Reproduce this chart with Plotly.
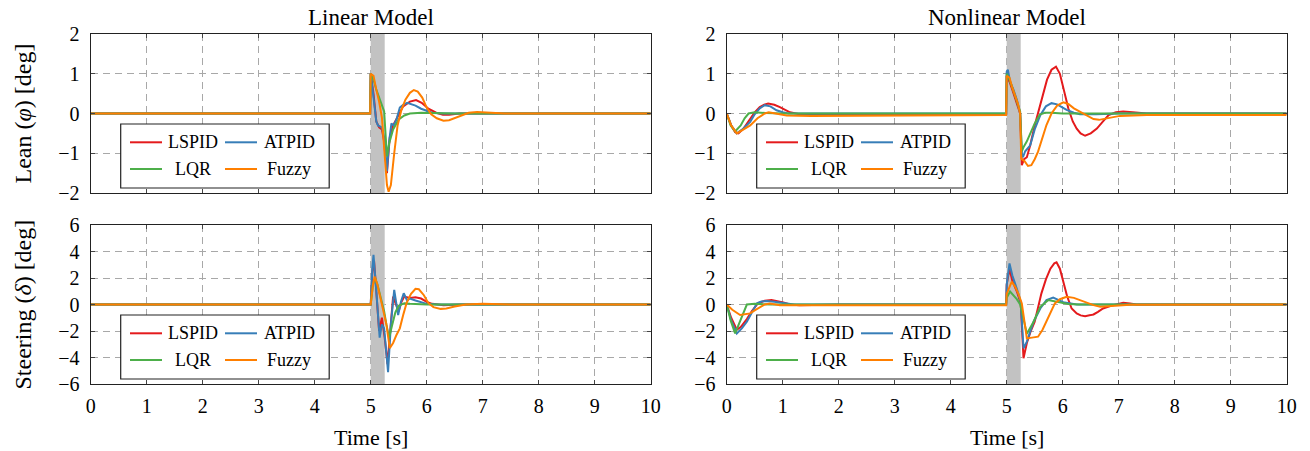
import plotly.graph_objects as go

# ---------------- data ----------------
controllers = ["LSPID", "ATPID", "LQR", "Fuzzy"]
colors = ["#e41a1c", "#377eb8", "#4daf4a", "#ff7f00"]

# Linear model - lean angle [deg]
lin_lean_lspid_t = [0, 4.99, 5.0, 5.05, 5.1, 5.15, 5.2, 5.24, 5.29, 5.34, 5.4, 5.49, 5.58, 5.7, 5.81, 5.91, 6.03, 6.17, 6.29, 6.4, 6.58, 10]
lin_lean_lspid_v = [0, 0, 1.0, 0.5, -0.2, -0.35, -0.4, -0.7, -1.5, -0.6, -0.3, -0.05, 0.18, 0.3, 0.34, 0.27, 0.12, 0.02, -0.03, -0.03, 0.0, 0.0]
lin_lean_atpid_t = [0, 4.99, 5.0, 5.05, 5.1, 5.13, 5.2, 5.24, 5.29, 5.33, 5.37, 5.41, 5.46, 5.52, 5.58, 5.65, 5.72, 5.8, 5.9, 6.0, 6.1, 6.3, 10]
lin_lean_atpid_v = [0, 0, 1.0, 0.45, -0.2, -0.3, -0.35, -0.6, -1.45, -0.7, -0.25, -0.3, -0.15, 0.15, 0.22, 0.27, 0.24, 0.2, 0.12, 0.07, 0.02, 0.0, 0.0]
lin_lean_lqr_t = [0, 4.99, 5.0, 5.05, 5.1, 5.15, 5.2, 5.24, 5.29, 5.33, 5.4, 5.5, 5.6, 5.7, 5.9, 6.5, 10]
lin_lean_lqr_v = [0, 0, 1.0, 0.85, 0.6, 0.4, 0.25, 0.05, -1.08, -0.75, -0.4, -0.15, -0.05, 0.0, 0.02, 0.0, 0.0]
lin_lean_fuzzy_t = [0, 4.99, 5.0, 5.05, 5.1, 5.15, 5.2, 5.25, 5.29, 5.32, 5.36, 5.42, 5.48, 5.55, 5.62, 5.7, 5.77, 5.84, 5.92, 6.0, 6.08, 6.18, 6.3, 6.4, 6.5, 6.6, 6.75, 6.9, 7.1, 7.4, 10]
lin_lean_fuzzy_v = [0, 0, 1.0, 0.95, 0.6, 0.3, -0.1, -1.0, -1.8, -1.97, -1.8, -1.0, -0.3, 0.1, 0.35, 0.52, 0.59, 0.55, 0.4, 0.15, -0.02, -0.12, -0.18, -0.17, -0.12, -0.05, 0.02, 0.04, 0.03, 0.0, 0.0]

# Linear model - steering angle [deg]
lin_steer_lspid_t = [0, 4.99, 5.0, 5.03, 5.06, 5.1, 5.15, 5.2, 5.25, 5.3, 5.35, 5.4, 5.45, 5.5, 5.55, 5.6, 5.7, 5.8, 5.9, 6.0, 6.1, 6.3, 6.6, 10]
lin_steer_lspid_v = [0, 0, 0, 2.5, 3.3, 1.0, -2.0, -1.0, -2.5, -4.5, -2.0, 0.6, 0.0, -0.5, 0.2, 0.6, 0.5, 0.55, 0.45, 0.2, 0.05, -0.05, 0.0, 0.0]
lin_steer_atpid_t = [0, 4.99, 5.0, 5.03, 5.05, 5.1, 5.16, 5.2, 5.24, 5.31, 5.36, 5.42, 5.49, 5.54, 5.59, 5.65, 5.7, 5.8, 5.9, 6.0, 6.2, 10]
lin_steer_atpid_v = [0, 0, 0, 2.8, 3.75, 1.0, -2.5, -1.5, -1.8, -5.1, -1.5, 1.1, -0.8, 0.2, 0.85, 0.3, 0.45, 0.3, 0.15, 0.05, 0.0, 0.0]
lin_steer_lqr_t = [0, 4.99, 5.0, 5.04, 5.08, 5.12, 5.18, 5.24, 5.28, 5.33, 5.38, 5.44, 5.5, 5.6, 5.7, 6.0, 10]
lin_steer_lqr_v = [0, 0, 0, 1.5, 2.0, 1.5, 0.5, -0.5, -1.5, -2.5, -1.6, -0.6, -0.1, 0.1, 0.05, 0.0, 0.0]
lin_steer_fuzzy_t = [0, 4.99, 5.0, 5.04, 5.07, 5.12, 5.18, 5.22, 5.28, 5.34, 5.4, 5.46, 5.52, 5.58, 5.64, 5.72, 5.8, 5.86, 5.95, 6.03, 6.12, 6.25, 6.35, 6.5, 6.7, 7.0, 7.5, 10]
lin_steer_fuzzy_v = [0, 0, 0, 1.5, 2.1, 1.5, 0.4, -0.3, -1.5, -3.3, -2.9, -2.3, -1.8, -0.8, 0.1, 0.8, 1.18, 1.15, 0.7, 0.1, -0.2, -0.33, -0.3, -0.15, 0.0, 0.05, 0.0, 0.0]

# Nonlinear model - lean angle [deg]
nl_lean_lspid_t = [0, 0.08, 0.15, 0.21, 0.3, 0.42, 0.5, 0.59, 0.67, 0.74, 0.85, 0.95, 1.05, 1.13, 1.3, 2.0, 4.99, 5.0, 5.05, 5.1, 5.15, 5.2, 5.24, 5.27, 5.31, 5.36, 5.42, 5.5, 5.56, 5.64, 5.72, 5.8, 5.88, 5.95, 6.02, 6.1, 6.18, 6.25, 6.32, 6.4, 6.5, 6.61, 6.72, 6.82, 6.95, 7.08, 7.25, 7.5, 10]
nl_lean_lspid_v = [0, -0.3, -0.47, -0.5, -0.38, -0.12, 0.03, 0.16, 0.22, 0.25, 0.22, 0.16, 0.08, 0.03, -0.02, -0.02, -0.02, 0.95, 0.8, 0.6, 0.4, 0.2, 0.0, -1.3, -1.15, -1.1, -0.8, -0.3, 0.0, 0.45, 0.85, 1.1, 1.18, 1.0, 0.6, 0.13, -0.2, -0.38, -0.5, -0.56, -0.5, -0.38, -0.2, -0.04, 0.03, 0.05, 0.03, 0.0, 0.0]
nl_lean_atpid_t = [0, 0.08, 0.18, 0.28, 0.42, 0.5, 0.59, 0.68, 0.78, 0.89, 1.0, 1.1, 4.99, 5.0, 5.02, 5.06, 5.12, 5.18, 5.24, 5.27, 5.29, 5.33, 5.42, 5.5, 5.6, 5.7, 5.8, 5.9, 6.0, 6.07, 6.2, 6.31, 6.6, 7.0, 10]
nl_lean_atpid_v = [0, -0.3, -0.5, -0.4, -0.21, -0.02, 0.13, 0.21, 0.18, 0.08, 0.03, 0.0, 0.0, 1.05, 1.1, 0.8, 0.6, 0.35, 0.0, -1.0, -1.1, -0.95, -0.8, -0.4, -0.04, 0.18, 0.26, 0.23, 0.15, 0.09, 0.02, -0.02, -0.02, 0.0, 0.0]
nl_lean_lqr_t = [0, 0.07, 0.15, 0.25, 0.32, 0.39, 0.5, 0.7, 1.0, 4.99, 5.0, 5.05, 5.1, 5.15, 5.2, 5.24, 5.27, 5.3, 5.36, 5.42, 5.5, 5.59, 5.68, 5.8, 6.0, 10]
nl_lean_lqr_v = [0, -0.3, -0.45, -0.3, -0.12, 0.0, 0.03, 0.01, 0.0, 0.0, 1.0, 0.85, 0.65, 0.45, 0.25, 0.05, -0.95, -0.85, -0.7, -0.5, -0.25, -0.03, 0.02, 0.02, 0.0, 0.0]
nl_lean_fuzzy_t = [0, 0.08, 0.18, 0.28, 0.42, 0.55, 0.68, 0.75, 0.9, 1.07, 1.5, 3.0, 4.99, 5.0, 5.05, 5.1, 5.15, 5.2, 5.24, 5.26, 5.32, 5.38, 5.44, 5.5, 5.56, 5.64, 5.71, 5.8, 5.9, 6.01, 6.1, 6.2, 6.31, 6.45, 6.55, 6.65, 6.82, 7.02, 7.5, 10]
nl_lean_fuzzy_v = [0, -0.3, -0.5, -0.42, -0.3, -0.12, 0.0, 0.03, 0.0, -0.05, -0.06, -0.05, -0.04, 0.95, 0.9, 0.65, 0.45, 0.25, 0.0, -1.14, -1.2, -1.32, -1.3, -1.15, -0.96, -0.6, -0.29, 0.0, 0.2, 0.28, 0.24, 0.13, 0.04, -0.08, -0.14, -0.16, -0.12, -0.06, -0.04, -0.04]

# Nonlinear model - steering angle [deg]
nl_steer_lspid_t = [0, 0.08, 0.18, 0.25, 0.36, 0.45, 0.56, 0.68, 0.8, 0.9, 1.01, 1.13, 1.3, 2.0, 4.99, 5.0, 5.05, 5.1, 5.18, 5.25, 5.3, 5.36, 5.43, 5.5, 5.56, 5.62, 5.7, 5.78, 5.85, 5.89, 5.95, 6.01, 6.08, 6.16, 6.25, 6.32, 6.4, 6.5, 6.55, 6.63, 6.72, 6.9, 7.08, 7.2, 7.32, 10]
nl_steer_lspid_v = [0, -1.0, -1.9, -1.7, -1.1, -0.5, 0.1, 0.28, 0.34, 0.28, 0.16, 0.0, -0.05, 0.0, 0.0, 1.5, 2.7, 1.8, 1.0, 0.1, -4.05, -2.9, -2.0, -1.3, -0.2, 0.84, 1.9, 2.7, 3.1, 3.18, 2.7, 1.72, 0.6, -0.3, -0.68, -0.82, -0.88, -0.8, -0.75, -0.55, -0.3, -0.05, 0.13, 0.08, 0.0, 0.0]
nl_steer_atpid_t = [0, 0.08, 0.18, 0.27, 0.36, 0.45, 0.54, 0.62, 0.71, 0.85, 1.0, 1.2, 4.99, 5.0, 5.05, 5.1, 5.18, 5.25, 5.3, 5.36, 5.48, 5.6, 5.71, 5.83, 5.92, 6.01, 6.25, 10]
nl_steer_atpid_v = [0, -1.2, -2.18, -1.8, -1.3, -0.6, 0.09, 0.22, 0.27, 0.2, 0.1, 0.0, 0.0, 1.5, 3.1, 2.2, 1.2, 0.2, -3.3, -2.8, -1.3, -0.3, 0.33, 0.52, 0.35, 0.17, 0.0, 0.0]
nl_steer_lqr_t = [0, 0.07, 0.15, 0.22, 0.3, 0.36, 0.5, 0.8, 4.99, 5.0, 5.06, 5.12, 5.18, 5.24, 5.3, 5.36, 5.48, 5.6, 5.74, 5.85, 5.95, 6.1, 6.3, 10]
nl_steer_lqr_v = [0, -1.2, -2.18, -1.5, -0.6, 0.0, 0.05, 0.0, 0.0, 0.5, 0.98, 0.7, 0.4, 0.0, -1.2, -2.2, -1.3, -0.17, 0.33, 0.25, 0.13, 0.03, 0.0, 0.0]
nl_steer_fuzzy_t = [0, 0.1, 0.24, 0.33, 0.42, 0.5, 0.6, 0.68, 0.77, 0.95, 1.3, 4.99, 5.0, 5.09, 5.15, 5.21, 5.27, 5.32, 5.36, 5.45, 5.56, 5.64, 5.71, 5.78, 5.86, 5.95, 6.07, 6.2, 6.31, 6.45, 6.55, 6.67, 6.8, 6.9, 7.2, 10]
nl_steer_fuzzy_v = [0, -0.4, -0.79, -0.75, -0.67, -0.45, -0.17, 0.0, 0.08, -0.05, -0.05, -0.05, 0.8, 1.72, 1.35, 0.8, 0.08, -1.5, -2.55, -2.5, -2.43, -1.9, -1.3, -0.6, 0.08, 0.4, 0.58, 0.5, 0.33, 0.1, -0.05, -0.17, -0.14, -0.08, -0.02, 0.0]

panels = [
    ("x", "y", [(lin_lean_lspid_t, lin_lean_lspid_v), (lin_lean_atpid_t, lin_lean_atpid_v),
                (lin_lean_lqr_t, lin_lean_lqr_v), (lin_lean_fuzzy_t, lin_lean_fuzzy_v)]),
    ("x2", "y2", [(nl_lean_lspid_t, nl_lean_lspid_v), (nl_lean_atpid_t, nl_lean_atpid_v),
                  (nl_lean_lqr_t, nl_lean_lqr_v), (nl_lean_fuzzy_t, nl_lean_fuzzy_v)]),
    ("x3", "y3", [(lin_steer_lspid_t, lin_steer_lspid_v), (lin_steer_atpid_t, lin_steer_atpid_v),
                  (lin_steer_lqr_t, lin_steer_lqr_v), (lin_steer_fuzzy_t, lin_steer_fuzzy_v)]),
    ("x4", "y4", [(nl_steer_lspid_t, nl_steer_lspid_v), (nl_steer_atpid_t, nl_steer_atpid_v),
                  (nl_steer_lqr_t, nl_steer_lqr_v), (nl_steer_fuzzy_t, nl_steer_fuzzy_v)]),
]

x_ticks = [0, 1, 2, 3, 4, 5, 6, 7, 8, 9, 10]
lean_ticks = [-2, -1, 0, 1, 2]
steer_ticks = [-6, -4, -2, 0, 2, 4, 6]
disturbance = [5.0, 5.25]

# ---------------- layout geometry (pixels) ----------------
W, H = 1310, 451
FONT = "Liberation Serif"
left_x = (90.7, 650.7)
right_x = (726.7, 1286.7)
top_y = (34, 193)
bot_y = (225, 384)


def px(x):
    return x / W


def py(y):
    return 1 - y / H


fig = go.Figure()

for xa, ya, series in panels:
    for name, col, (t, v) in zip(controllers, colors, series):
        fig.add_trace(go.Scatter(x=t, y=v, mode="lines", name=name, xaxis=xa, yaxis=ya,
                                 line=dict(color=col, width=2), showlegend=False))

tick_font = dict(family=FONT, size=20, color="black")
axis_common = dict(
    showgrid=True, gridcolor="#a8a8a8", gridwidth=1, griddash="7px,5px",
    showline=True, linecolor="#222222", linewidth=1.3, mirror="ticks",
    ticks="inside", ticklen=4, tickcolor="#444444", zeroline=False,
    automargin=False, tickfont=tick_font,
)

layout = dict(
    width=W, height=H, autosize=False,
    margin=dict(l=0, r=0, t=0, b=0, pad=0),
    paper_bgcolor="white", plot_bgcolor="white",
    showlegend=False,
    font=dict(family=FONT, size=20, color="black"),
)

specs = [
    ("xaxis", "yaxis", left_x, top_y, lean_ticks, False, "y", "x"),
    ("xaxis2", "yaxis2", right_x, top_y, lean_ticks, False, "y2", "x2"),
    ("xaxis3", "yaxis3", left_x, bot_y, steer_ticks, True, "y3", "x3"),
    ("xaxis4", "yaxis4", right_x, bot_y, steer_ticks, True, "y4", "x4"),
]
for xk, yk, xd, yd, yt, show_xlab, anchor_y, anchor_x in specs:
    layout[xk] = dict(axis_common, domain=[px(xd[0]), px(xd[1])], range=[0, 10],
                      tickvals=x_ticks, showticklabels=show_xlab, anchor=anchor_y,
                      ticklabelstandoff=4)
    layout[yk] = dict(axis_common, domain=[py(yd[1]), py(yd[0])], range=[yt[0], yt[-1]],
                      tickvals=yt, anchor=anchor_x, ticklabelstandoff=6)

fig.update_layout(**layout)
fig.update_xaxes(tickfont=tick_font)
fig.update_yaxes(tickfont=tick_font)

# disturbance shading
for xa, ya, yt in [("x", "y", lean_ticks), ("x2", "y2", lean_ticks),
                   ("x3", "y3", steer_ticks), ("x4", "y4", steer_ticks)]:
    fig.add_shape(type="rect", xref=xa, yref=ya, x0=disturbance[0], x1=disturbance[1],
                  y0=yt[0], y1=yt[-1], fillcolor="#c2c2c2", line=dict(width=0), layer="between")

# manual legends (2x2 grid) inside each panel
for xd in (left_x, right_x):
    for yd in (top_y, bot_y):
        ox, oy = xd[0], yd[0]
        fig.add_shape(type="rect", xref="paper", yref="paper",
                      x0=px(ox + 30), x1=px(ox + 238.5), y0=py(oy + 154), y1=py(oy + 90),
                      line=dict(color="#222222", width=1.2), fillcolor="white", layer="above")
        cells = [(0, 0), (1, 0), (0, 1), (1, 1)]
        for (cx, cy), name, col in zip(cells, controllers, colors):
            ly = oy + 108.3 + cy * 26.7
            lx0 = ox + 39.3 + cx * 95
            fig.add_shape(type="line", xref="paper", yref="paper",
                          x0=px(lx0), x1=px(lx0 + 32), y0=py(ly), y1=py(ly),
                          line=dict(color=col, width=2), layer="above")
            fig.add_annotation(xref="paper", yref="paper", x=px(ox + 102.5 + cx * 96), y=py(ly),
                               text=name, showarrow=False, xanchor="center", yanchor="middle",
                               font=dict(family=FONT, size=18, color="black"))

# titles and axis labels
for text, cx in [("Linear Model", (left_x[0] + left_x[1]) / 2), ("Nonlinear Model", (right_x[0] + right_x[1]) / 2)]:
    fig.add_annotation(xref="paper", yref="paper", x=px(cx), y=py(17), text=text, showarrow=False,
                       xanchor="center", yanchor="middle", font=dict(family=FONT, size=23, color="black"))
    fig.add_annotation(xref="paper", yref="paper", x=px(cx), y=py(437), text="Time [s]", showarrow=False,
                       xanchor="center", yanchor="middle", font=dict(family=FONT, size=22, color="black"))

fig.add_annotation(xref="paper", yref="paper", x=px(22), y=py((top_y[0] + top_y[1]) / 2),
                   text="Lean (<i>φ</i>) [deg]", textangle=-90, showarrow=False,
                   xanchor="center", yanchor="middle", font=dict(family=FONT, size=24, color="black"))
fig.add_annotation(xref="paper", yref="paper", x=px(22), y=py((bot_y[0] + bot_y[1]) / 2),
                   text="Steering (<i>δ</i>) [deg]", textangle=-90, showarrow=False,
                   xanchor="center", yanchor="middle", font=dict(family=FONT, size=24, color="black"))

fig.write_html("out.html", config={"displayModeBar": False},
               post_script="document.body.style.margin='0px';document.body.style.padding='0px';")
